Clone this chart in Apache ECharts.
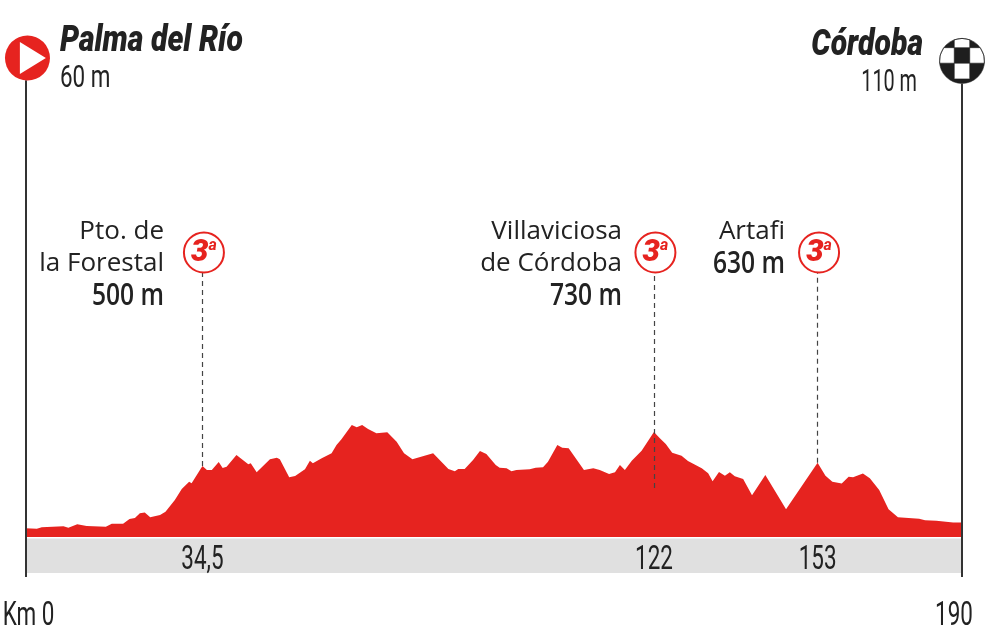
<!DOCTYPE html>
<html><head><meta charset="utf-8">
<style>html,body{margin:0;padding:0;background:#fff}#c{width:990px;height:627px}</style>
<script src="https://cdn.jsdelivr.net/npm/echarts@6/dist/echarts.min.js"></script>
</head><body><div id="c"></div>
<script>
const profileKm = [0,2.3,3.3,7.7,8.7,10.5,12.4,16.3,17.5,19.8,21.1,22.2,23.2,24.2,25.3,27.3,28.4,30.3,31.7,33.2,33.7,35.9,36.8,37.8,39.2,40.0,40.8,42.8,45.2,45.7,46.9,49.6,51.0,51.6,53.5,54.7,56.7,57.7,58.3,60.1,62.1,63.1,64.1,66.2,67.2,68.3,69.5,71.2,73.4,75.3,76.8,78.5,82.7,85.8,87.1,87.8,89.1,90.8,92.2,93.5,95.4,96.2,97.6,98.6,99.6,102.3,103.5,105.0,106.0,107.9,108.9,110.2,113.3,115.2,116.5,118.4,119.6,120.6,121.6,123.0,125.0,127.5,128.7,129.9,131.2,133.1,134.4,137.2,138.5,139.4,140.7,141.9,142.9,143.9,145.6,147.4,150.1,154.3,160.7,162.3,163.7,165.6,167.0,167.9,169.9,171.3,173.2,175.1,177.0,181.3,182.5,184.8,188.2,190];
const profileElev = [60,57,67,74,64,88,76,71,92,92,124,131,163,168,136,152,174,255,331,381,370,490,462,462,517,476,485,566,501,508,446,536,547,536,412,421,467,526,508,543,577,635,674,772,757,772,745,715,722,657,577,536,577,469,453,469,469,531,593,572,497,478,474,453,462,467,478,481,519,635,616,612,462,474,462,434,446,497,462,526,595,724,681,641,581,561,524,474,439,384,448,423,446,419,400,288,428,191,512,423,381,368,416,412,437,405,324,191,136,126,115,112,99,99];

const startName = 'Palma del Río', startAlt = '60 m';
const finishName = 'Córdoba', finishAlt = '110 m';
const kmEndLabels = ['Km 0', '190'];
const kmEnds = [0, 190];
const passKmLabels = ['34,5', '122', '153'];
const passAxisKm = [35.9, 127.5, 160.7];
const passLeaderEnd = [490, 338, 512];
const passCategory = ['3', '3', '3'];
const passNames = [['Pto. de', 'la Forestal'], ['Villaviciosa', 'de Córdoba'], ['Artafi']];
const passAlts = ['500 m', '730 m', '630 m'];

const INK = '#222', RED = '#e6231f', GREY = '#e0e0e0';
const COND = 'Roboto';
const chart = echarts.init(document.getElementById('c'), null, {renderer: 'canvas'});

function txt(text, x, y, font, align, sx, extra) {
  return {type: 'text', x, y, scaleX: sx, z: 20, style: Object.assign({text, font, fill: INK, align, verticalAlign: 'middle'}, extra || {})};
}
const headerText = [
  txt(startName, 60, 42, 'italic 900 36px ' + COND, 'left', 0.84),
  txt(startAlt, 60, 79, '32px ' + COND, 'left', 0.7),
  txt(finishName, 923, 46, 'italic 900 36px ' + COND, 'right', 0.84),
  txt(finishAlt, 917, 83, '32px ' + COND, 'right', 0.62)
];
const passRight = [164, 622, 785];
const passText = [];
passNames.forEach((lines, i) => {
  lines.forEach((l, j) => passText.push(txt(l, passRight[i], 232 + j * 32, '26px "Open Sans"', 'right', 1)));
  passText.push(txt(passAlts[i], passRight[i], 232 + lines.length * 32, '600 30px "Open Sans"', 'right', 0.82));
});

const finishFlag = 'path://M0 -22.5A22.5 22.5 0 1 1 0 22.5A22.5 22.5 0 1 1 0 -22.5Z' +
  'M-7.75 -13.25L7.75 -13.25L7.75 -21.13A22.5 22.5 0 0 0 -7.75 -21.13Z' +
  'M7.75 2.25L22.39 2.25A22.5 22.5 0 0 0 18.18 -13.25L7.75 -13.25Z' +
  'M-7.75 -13.25L-18.18 -13.25A22.5 22.5 0 0 0 -22.39 2.25L-7.75 2.25Z' +
  'M-7.75 2.25L-7.75 18L7.75 18L7.75 2.25Z';

const condensedLabel = (rows) => ({
  type: 'custom', coordinateSystem: 'cartesian2d', silent: true, z: 15,
  data: rows,
  renderItem(params, api) {
    const r = rows[params.dataIndex];
    const p = api.coord([r[0], r[1]]);
    return {type: 'text', x: p[0] + r[3], y: p[1], scaleX: 0.66,
      style: {text: r[2], font: '34px ' + COND, fill: INK, align: 'center', verticalAlign: 'middle'}};
  }
});

chart.setOption({
  animation: false,
  backgroundColor: '#fff',
  grid: {left: 25.5, right: 28, top: 37, bottom: 50},
  xAxis: {type: 'value', min: 0, max: 190, show: false},
  yAxis: {type: 'value', min: -276, max: 3448, show: false},
  graphic: headerText.concat(passText),
  series: [
    {
      type: 'line', name: 'Perfil', symbol: 'none', silent: true, z: 3,
      data: profileKm.map((k, i) => [k, profileElev[i]]),
      lineStyle: {width: 0}, areaStyle: {color: RED, opacity: 1, origin: 0},
      markArea: {silent: true, itemStyle: {color: GREY}, data: [[{coord: [0, -10]}, {coord: [190, -248]}]]},
      markLine: {
        silent: true, symbol: 'none', label: {show: false}, animation: false, z: 6,
        data: [
          [{coord: [kmEnds[0], -276], lineStyle: {color: '#333', width: 2, type: 'solid'}}, {coord: [kmEnds[0], 3150]}],
          [{coord: [kmEnds[1], -276], lineStyle: {color: '#333', width: 2, type: 'solid'}}, {coord: [kmEnds[1], 3125]}]
        ].concat(passAxisKm.map((k, i) => [
          {coord: [k, passLeaderEnd[i]], lineStyle: {color: '#444', width: 1.2, type: [5, 4]}}, {coord: [k, 1820]}
        ]))
      }
    },
    {
      type: 'scatter', name: 'Puertos', silent: true, z: 8, symbol: 'circle', symbolSize: 40,
      itemStyle: {color: '#fff', borderColor: RED, borderWidth: 2, opacity: 1},
      data: passAxisKm.map((k, i) => ({value: [k + 0.3, 1962], cat: passCategory[i]})),
      label: {
        show: true, position: 'inside',
        formatter: p => '{n|' + p.data.cat + '}{s|a}',
        rich: {
          n: {fontFamily: COND, fontStyle: 'italic', fontWeight: 900, fontSize: 31, color: RED, padding: [2, 0, 0, 0]},
          s: {fontFamily: COND, fontStyle: 'italic', fontWeight: 700, fontSize: 16, color: RED, padding: [0, 0, 12, 0]}
        }
      }
    },
    {type: 'scatter', silent: true, z: 8, symbol: 'circle', symbolSize: 45, itemStyle: {color: RED, opacity: 1}, data: [[0.4, 3303]]},
    {type: 'scatter', silent: true, z: 9, symbol: 'triangle', symbolRotate: -90, symbolSize: [32, 26], itemStyle: {color: '#fff', opacity: 1}, data: [[1.5, 3303]]},
    {type: 'scatter', silent: true, z: 8, symbol: finishFlag, symbolSize: 45, itemStyle: {color: '#1e1e1e', borderColor: '#1e1e1e', borderWidth: 0.6, opacity: 1}, data: [[190, 3283]]},
    condensedLabel(passAxisKm.map((k, i) => [k, -165, passKmLabels[i], 0])),
    condensedLabel([[kmEnds[0], -545, kmEndLabels[0], 3], [kmEnds[1], -545, kmEndLabels[1], -8]])
  ]
});
</script></body></html>
